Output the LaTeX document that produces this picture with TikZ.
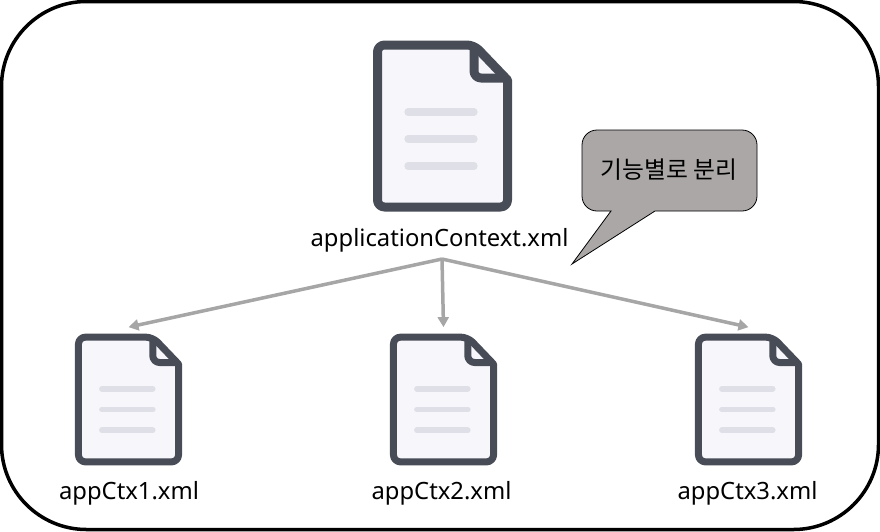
\documentclass[tikz,border=0pt]{standalone}
\usepackage{fontspec}
\setmainfont{Noto Sans}
\newfontfamily\cjk{Noto Sans CJK KR}
\usepackage{xcolor}
\usetikzlibrary{arrows.meta, positioning}
\definecolor{docedge}{HTML}{474C57}
\definecolor{docpaper}{HTML}{F6F6FB}
\definecolor{docrule}{HTML}{DFDFE7}
\definecolor{tipgray}{HTML}{ABA7A7}
\definecolor{linkgray}{HTML}{A6A6A6}

\begin{document}
\begin{tikzpicture}[
  x=1pt, y=-1pt,
  every node/.style={font=\fontsize{23.8}{28}\selectfont, align=center, inner sep=0pt},
  frame/.style   ={draw=black, line width=3.5pt, rounded corners=85pt},
  bubble/.style  ={draw=black, line width=0.8pt, fill=tipgray},
  link/.style    ={draw=linkgray, line width=3.5pt, -{Triangle[length=10pt, width=11pt]}},
  bigdoc/.style  ={line width=9pt},
  smalldoc/.style={scale=0.77, line width=7pt},
  pics/docfile/.style={code={
    \draw[docedge, fill=docpaper, rounded corners=7pt, line join=round]
      (-65,-81) -- (31.5,-81) [sharp corners] -- (65,-46) [rounded corners=7pt] -- (65,81) -- (-65,81) -- cycle;
    \draw[docedge, rounded corners=7pt, line join=round] (31.5,-81) -- (31.5,-48) -- (65,-48);
    \foreach \y in {-14,13,40}{
      \draw[docrule, line cap=round, line width=0.9\pgflinewidth] (-34.5,\y) -- (31.5,\y);
    }
    \coordinate (-top) at (0,-94);
  }}
]

\useasboundingbox (0,0) rectangle (880,531);
\draw[frame] (1.5,1.5) rectangle (878.5,529.5);

\pic[bigdoc]   (appdoc) at (442.5,126)   {docfile};
\pic[smalldoc] (ctxa)   at (128.5,399.5) {docfile};
\pic[smalldoc] (ctxb)   at (443.5,399.5) {docfile};
\pic[smalldoc] (ctxc)   at (748.5,399.5) {docfile};

\node (applabel) at (439.5,240) {applicationContext.xml};
\node (ctxalabel) at (129,493)   {appCtx1.xml};
\node (ctxblabel) at (441.5,493) {appCtx2.xml};
\node (ctxclabel) at (747.5,493) {appCtx3.xml};

\coordinate (split) at (442,259);
\foreach \c in {ctxa,ctxb,ctxc}{
  \draw[link] (split) -- (\c-top);
}

\draw[bubble, line join=miter] (611,211) -- (572,264) -- (655,211) -- (742,211)
  .. controls (750.3,211) and (757,204.3) .. (757,196) -- (757,145)
  .. controls (757,136.7) and (750.3,130) .. (742,130) -- (597,130)
  .. controls (588.7,130) and (582,136.7) .. (582,145) -- (582,196)
  .. controls (582,204.3) and (588.7,211) .. (597,211) -- cycle;
\node (note) at (669,170) {\cjk 기능별로 분리};

\end{tikzpicture}
\end{document}
